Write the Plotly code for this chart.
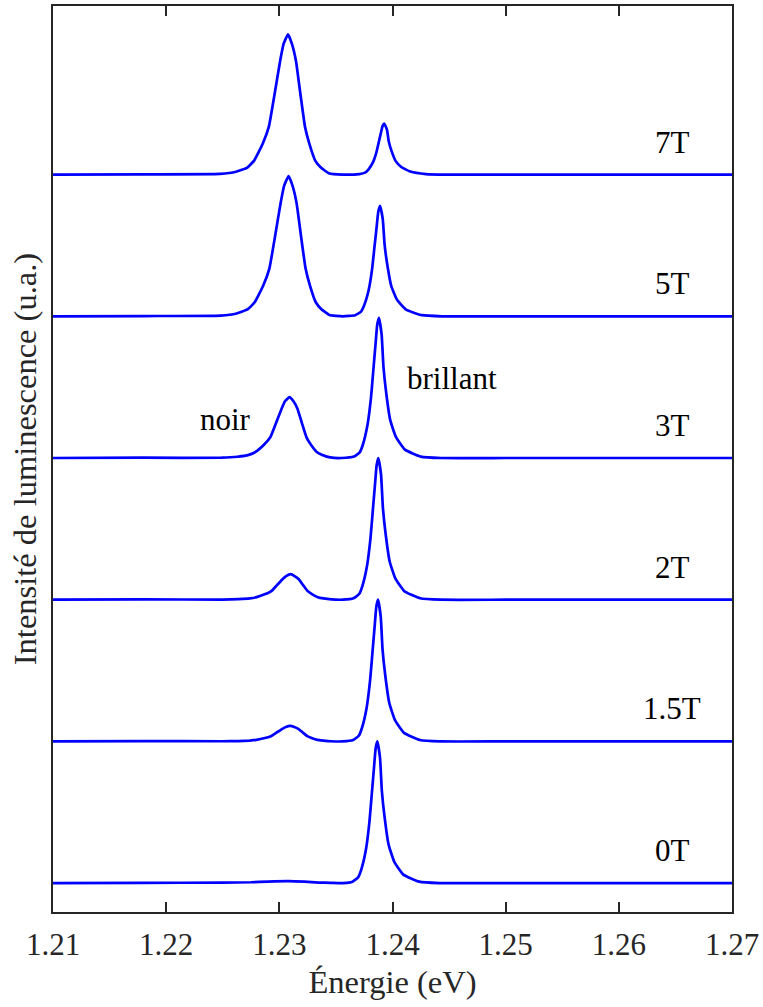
import plotly.graph_objects as go

# ---------------- data ----------------
field_labels = ["0T", "1.5T", "2T", "3T", "5T", "7T"]

energy_0T = [1.2100, 1.2180, 1.2250, 1.2275, 1.2290, 1.2308, 1.2322, 1.2335, 1.2345,
             1.23566, 1.23646, 1.23696, 1.23726, 1.23766, 1.23796, 1.23816, 1.23836, 1.23851,
             1.23866, 1.23890, 1.23906, 1.23931, 1.23966, 1.24016, 1.24096, 1.24236, 1.24416,
             1.2500, 1.2600, 1.2700]
intensity_0T = [0.0, 0.002, 0.003, 0.006, 0.011, 0.014, 0.010, 0.004, 0.002,
                0.0, 0.01, 0.04, 0.10, 0.24, 0.43, 0.62, 0.81, 0.95,
                1.0, 0.88, 0.65, 0.46, 0.27, 0.15, 0.06, 0.01, 0.0,
                0.0, 0.0, 0.0]

energy_1p5T = [1.2100, 1.2180,
               1.22497, 1.22637, 1.22737, 1.22797, 1.22873, 1.22927, 1.22977, 1.23027, 1.23057,
               1.23097,
               1.23132, 1.23167, 1.23207, 1.23247, 1.23285, 1.23337, 1.23387, 1.23457, 1.23557,
               1.23652, 1.23702, 1.23732, 1.23772, 1.23802, 1.23822, 1.23842, 1.23857,
               1.23872, 1.23896, 1.23912, 1.23937, 1.23972, 1.24022, 1.24102, 1.24242, 1.24422,
               1.2500, 1.2600, 1.2700]
intensity_1p5T = [0.0, 0.002,
                  0.001, 0.002, 0.006, 0.011, 0.024, 0.037, 0.063, 0.089, 0.102,
                  0.11,
                  0.102, 0.089, 0.063, 0.037, 0.024, 0.011, 0.006, 0.001, 0.0,
                  0.01, 0.04, 0.10, 0.24, 0.43, 0.62, 0.81, 0.95,
                  1.0, 0.88, 0.65, 0.46, 0.27, 0.15, 0.06, 0.01, 0.0,
                  0.0, 0.0, 0.0]

energy_2T = [1.2100, 1.2180,
             1.2250, 1.2264, 1.2274, 1.2280, 1.22876, 1.2293, 1.2298, 1.2303, 1.2306,
             1.2310,
             1.23135, 1.2317, 1.2321, 1.2325, 1.23288, 1.2334, 1.2339, 1.2346, 1.2356,
             1.23655, 1.23705, 1.23735, 1.23775, 1.23805, 1.23825, 1.23845, 1.2386,
             1.23875, 1.23899, 1.23915, 1.2394, 1.23975, 1.24025, 1.24105, 1.24245, 1.24425,
             1.2500, 1.2600, 1.2700]
intensity_2T = [0.0, 0.002,
                0.001, 0.004, 0.009, 0.018, 0.040, 0.061, 0.103, 0.146, 0.167,
                0.18,
                0.167, 0.146, 0.103, 0.061, 0.040, 0.018, 0.009, 0.002, 0.0,
                0.01, 0.04, 0.10, 0.24, 0.43, 0.62, 0.81, 0.95,
                1.0, 0.88, 0.65, 0.46, 0.27, 0.15, 0.06, 0.01, 0.0,
                0.0, 0.0, 0.0]

energy_3T = [1.2100, 1.2180,
             1.2249, 1.2263, 1.2273, 1.2279, 1.22866, 1.2292, 1.2297, 1.2302, 1.2305,
             1.2309,
             1.23125, 1.2316, 1.2320, 1.2324, 1.23278, 1.2333, 1.2338, 1.2345, 1.2355,
             1.2366, 1.2371, 1.2374, 1.2378, 1.2381, 1.2383, 1.2385, 1.23865,
             1.2388, 1.23904, 1.2392, 1.23945, 1.2398, 1.2403, 1.2411, 1.2425, 1.2443,
             1.2500, 1.2600, 1.2700]
intensity_3T = [0.0, 0.002,
                0.002, 0.009, 0.022, 0.043, 0.095, 0.146, 0.245, 0.348, 0.400,
                0.43,
                0.400, 0.348, 0.245, 0.146, 0.095, 0.043, 0.022, 0.004, 0.0,
                0.01, 0.04, 0.099, 0.238, 0.426, 0.614, 0.802, 0.94,
                0.99, 0.871, 0.644, 0.455, 0.267, 0.149, 0.059, 0.01, 0.0,
                0.0, 0.0, 0.0]

energy_5T = [1.2100, 1.2180,
             1.22482, 1.22622, 1.22722, 1.22782, 1.22858, 1.22912, 1.22962, 1.23012, 1.23042,
             1.23082,
             1.23117, 1.23152, 1.23192, 1.23232, 1.23270, 1.23322, 1.23372, 1.23442, 1.23560,
             1.2367, 1.2372, 1.2375, 1.2379, 1.2382, 1.2384, 1.2386, 1.23875,
             1.2389, 1.23914, 1.2393, 1.23955, 1.2399, 1.2404, 1.2412, 1.2426, 1.2444,
             1.2500, 1.2600, 1.2700]
intensity_5T = [0.0, 0.002,
                0.005, 0.02, 0.05, 0.099, 0.218, 0.337, 0.564, 0.802, 0.921,
                0.99,
                0.921, 0.802, 0.564, 0.337, 0.218, 0.099, 0.05, 0.01, 0.0,
                0.008, 0.031, 0.078, 0.187, 0.335, 0.484, 0.632, 0.741,
                0.78, 0.686, 0.507, 0.359, 0.211, 0.117, 0.047, 0.008, 0.0,
                0.0, 0.0, 0.0]

energy_7T = [1.2100, 1.2180,
             1.22477, 1.22617, 1.22717, 1.22777, 1.22853, 1.22907, 1.22957, 1.23007, 1.23037,
             1.23077,
             1.23112, 1.23147, 1.23187, 1.23227, 1.23265, 1.23317, 1.23367, 1.23437, 1.23560,
             1.23707, 1.23757, 1.23787, 1.23827, 1.23857, 1.23877, 1.23897, 1.23912,
             1.23927, 1.23951, 1.23967, 1.23992, 1.24027, 1.24077, 1.24157, 1.24297, 1.24477,
             1.2500, 1.2600, 1.2700]
intensity_7T = [0.0, 0.002,
                0.005, 0.02, 0.05, 0.099, 0.218, 0.337, 0.564, 0.802, 0.921,
                0.99,
                0.921, 0.802, 0.564, 0.337, 0.218, 0.099, 0.05, 0.01, 0.0,
                0.004, 0.014, 0.036, 0.086, 0.155, 0.223, 0.292, 0.342,
                0.36, 0.317, 0.234, 0.166, 0.097, 0.054, 0.022, 0.004, 0.0,
                0.0, 0.0, 0.0]

x_tick_values = [1.21, 1.22, 1.23, 1.24, 1.25, 1.26, 1.27]
x_tick_labels = ["1.21", "1.22", "1.23", "1.24", "1.25", "1.26", "1.27"]

# ---------------- styling / layout ----------------
spectra = [
    (energy_0T, intensity_0T),
    (energy_1p5T, intensity_1p5T),
    (energy_2T, intensity_2T),
    (energy_3T, intensity_3T),
    (energy_5T, intensity_5T),
    (energy_7T, intensity_7T),
]
OFFSET_STEP = 1.0
LABEL_X = 1.2647
LABEL_DY = 0.23
FONT = "Liberation Serif"
FS = 31
FS_TITLE = 32.5
AXIS_COLOR = "#262626"
LINE_COLOR = "#0000ff"

fig = go.Figure()
for i, (e, inten) in enumerate(spectra):
    fig.add_trace(go.Scatter(
        x=e, y=[v + i * OFFSET_STEP for v in inten],
        mode="lines", line=dict(color=LINE_COLOR, width=2.7, shape="spline", smoothing=0.4),
        showlegend=False, hoverinfo="skip"))

annotations = []
for i, lab in enumerate(field_labels):
    annotations.append(dict(x=LABEL_X, y=i * OFFSET_STEP + LABEL_DY, text=lab,
                            showarrow=False, xanchor="center", yanchor="middle",
                            font=dict(family=FONT, size=FS, color="black")))
annotations.append(dict(x=1.2252, y=3 * OFFSET_STEP + 0.27, text="noir", showarrow=False,
                        xanchor="center", yanchor="middle",
                        font=dict(family=FONT, size=FS, color="black")))
annotations.append(dict(x=1.2453, y=3 * OFFSET_STEP + 0.56, text="brillant", showarrow=False,
                        xanchor="center", yanchor="middle",
                        font=dict(family=FONT, size=FS, color="black")))

fig.update_layout(
    width=763, height=1007,
    margin=dict(l=53, r=29, t=4, b=95),
    paper_bgcolor="white", plot_bgcolor="white",
    font=dict(family=FONT, size=FS, color="#262626"),
    annotations=annotations,
)
fig.update_xaxes(
    range=[1.21, 1.27], tickvals=x_tick_values, ticktext=x_tick_labels,
    ticks="inside", ticklen=10, tickwidth=2, tickcolor=AXIS_COLOR,
    showline=True, linecolor=AXIS_COLOR, linewidth=2, mirror="ticks",
    showgrid=False, zeroline=False, ticklabelstandoff=4,
    tickfont=dict(family=FONT, size=FS, color="#262626"),
    title=dict(text="Énergie (eV)", standoff=9, font=dict(family=FONT, size=FS_TITLE, color="#262626")),
)
fig.update_yaxes(
    range=[-0.204, 6.19], showticklabels=False, ticks="",
    showline=True, linecolor=AXIS_COLOR, linewidth=2, mirror=True,
    showgrid=False, zeroline=False,
    title=dict(text="Intensité de luminescence (u.a.)", standoff=5,
               font=dict(family=FONT, size=FS_TITLE, color="#262626")),
)

fig.write_html("out.html", config={"displayModeBar": False},
               post_script="document.body.style.margin='0';document.body.style.padding='0';")
